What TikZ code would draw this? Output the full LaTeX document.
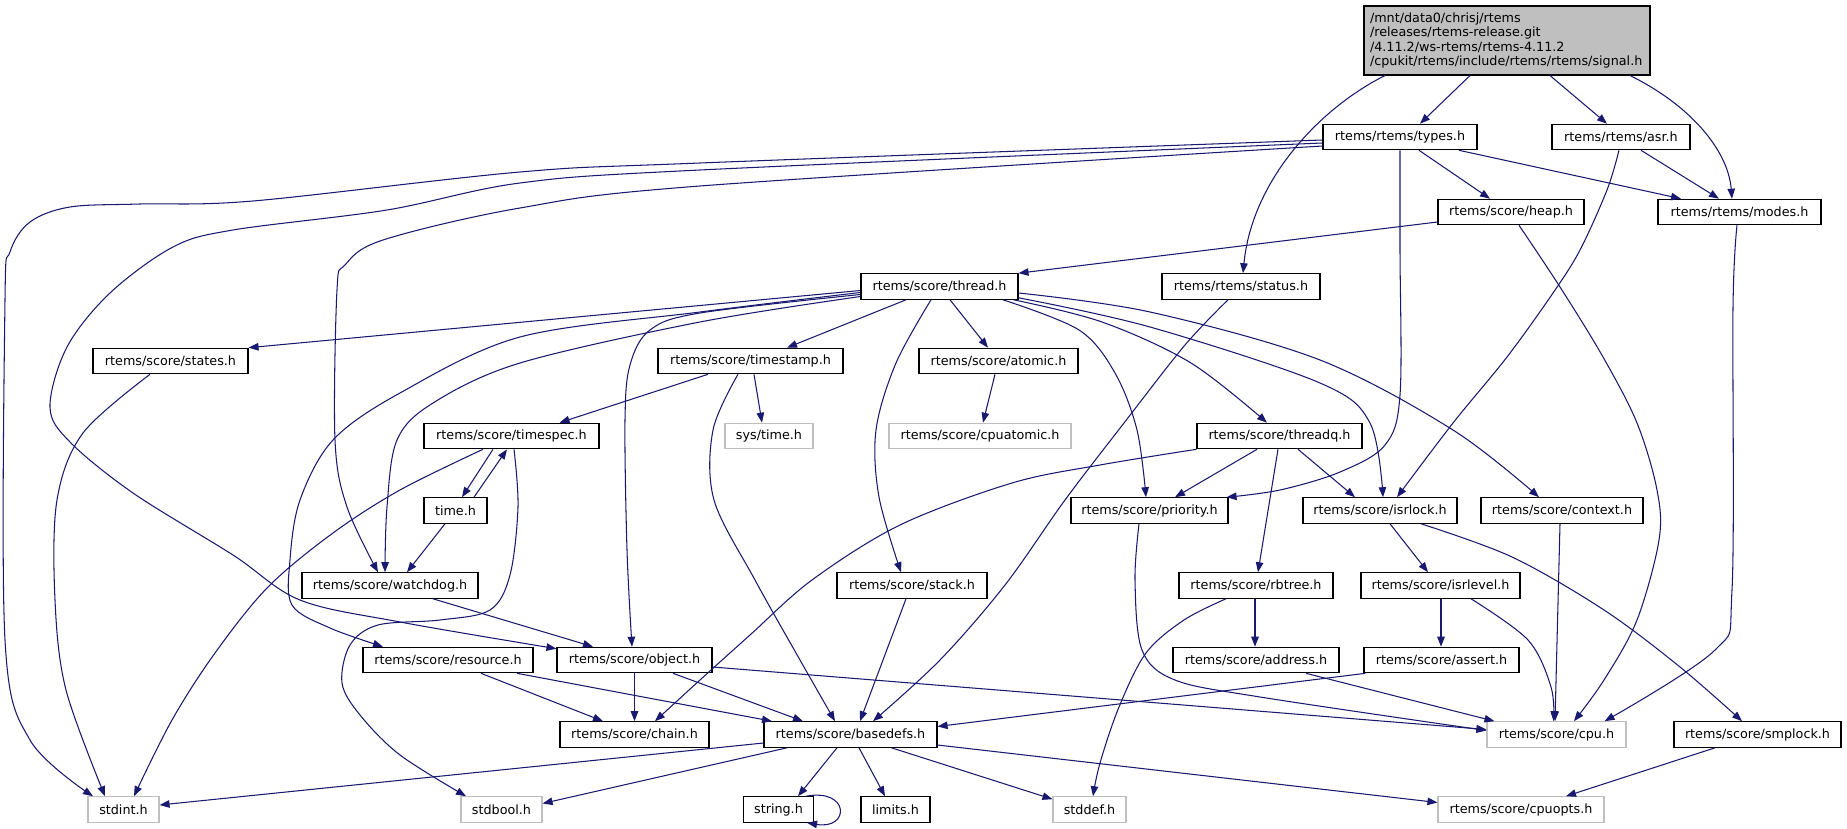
\documentclass[tikz,border=0pt]{standalone}
\usepackage{fontspec}
\setmainfont{DejaVu Sans}
\usetikzlibrary{arrows.meta}
\definecolor{eb}{HTML}{191970}
\definecolor{gsev}{HTML}{BFBFBF}
\newcommand{\dgfont}{\fontsize{12.75}{14.5}\selectfont}
\tikzset{
  nd/.style={rectangle, draw=black, line width=1.1pt, fill=white, minimum height=25.5pt, inner sep=0pt, font=\dgfont},
  gnd/.style={nd, draw=gsev},
  rootnd/.style={rectangle, draw=black, line width=1.1pt, fill=gsev, minimum height=69pt, text width=274pt, align=left, inner xsep=6pt, inner ysep=0pt, font=\dgfont},
  ed/.style={draw=eb, line width=1.05pt, -{Triangle[length=10pt,width=7.5pt]}},
  sm/.style={smooth, tension=0.55}
}
\begin{document}
\begin{tikzpicture}[x=1pt,y=-1pt]
\fill[white] (0,0) rectangle (1847,829);
\useasboundingbox (0,0) rectangle (1847,829);
% nodes
\node[rootnd] (root) at (1507,40.5) {/mnt/data0/chrisj/rtems\\/releases/rtems-release.git\\/4.11.2/ws-rtems/rtems-4.11.2\\/cpukit/rtems/include/rtems/rtems/signal.h};
\node[nd, minimum width=154pt] (types) at (1400,137) {rtems/rtems/types.h};
\node[nd, minimum width=138pt] (asr) at (1621,137) {rtems/rtems/asr.h};
\node[nd, minimum width=146pt] (heap) at (1511,212) {rtems/score/heap.h};
\node[nd, minimum width=163pt] (modes) at (1739.5,212) {rtems/rtems/modes.h};
\node[nd, minimum width=157pt] (thread) at (939.5,286.5) {rtems/score/thread.h};
\node[nd, minimum width=158pt] (status) at (1241,286.5) {rtems/rtems/status.h};
\node[nd, minimum width=155pt] (states) at (170.5,361) {rtems/score/states.h};
\node[nd, minimum width=185pt] (timestamp) at (750.5,361) {rtems/score/timestamp.h};
\node[nd, minimum width=159pt] (atomic) at (998.5,361) {rtems/score/atomic.h};
\node[nd, minimum width=175pt] (timespec) at (511.5,436) {rtems/score/timespec.h};
\node[gnd, minimum width=88pt] (systime) at (769,436) {sys/time.h};
\node[gnd, minimum width=182pt] (cpuatomic) at (980,436) {rtems/score/cpuatomic.h};
\node[nd, minimum width=165pt] (threadq) at (1279.5,436) {rtems/score/threadq.h};
\node[nd, minimum width=63pt] (time) at (455.5,510.5) {time.h};
\node[nd, minimum width=157pt] (priority) at (1149.5,510.5) {rtems/score/priority.h};
\node[nd, minimum width=154pt] (isrlock) at (1380,510.5) {rtems/score/isrlock.h};
\node[nd, minimum width=162pt] (context) at (1562,510.5) {rtems/score/context.h};
\node[nd, minimum width=176pt] (watchdog) at (390,585.5) {rtems/score/watchdog.h};
\node[nd, minimum width=150pt] (stack) at (912,585.5) {rtems/score/stack.h};
\node[nd, minimum width=154pt] (rbtree) at (1256,585.5) {rtems/score/rbtree.h};
\node[nd, minimum width=159pt] (isrlevel) at (1440.5,585.5) {rtems/score/isrlevel.h};
\node[nd, minimum width=170pt] (resource) at (448,660) {rtems/score/resource.h};
\node[nd, minimum width=155pt] (object) at (634.5,660) {rtems/score/object.h};
\node[nd, minimum width=166pt] (address) at (1256,660) {rtems/score/address.h};
\node[nd, minimum width=155pt] (assert) at (1441.5,660) {rtems/score/assert.h};
\node[nd, minimum width=149pt] (chain) at (634.5,734.5) {rtems/score/chain.h};
\node[nd, minimum width=173pt] (basedefs) at (850.5,734.5) {rtems/score/basedefs.h};
\node[gnd, minimum width=139pt] (cpu) at (1556.5,734.5) {rtems/score/cpu.h};
\node[nd, minimum width=167pt] (smplock) at (1757.5,734.5) {rtems/score/smplock.h};
\node[gnd, minimum width=71pt] (stdint) at (123.5,809.5) {stdint.h};
\node[gnd, minimum width=81pt] (stdbool) at (501.5,809.5) {stdbool.h};
\node[nd, minimum width=70pt] (string) at (778.5,809.5) {string.h};
\node[nd, minimum width=69pt] (limits) at (895.5,809.5) {limits.h};
\node[gnd, minimum width=73pt] (stddef) at (1089.5,809.5) {stddef.h};
\node[gnd, minimum width=166pt] (cpuopts) at (1521,809.5) {rtems/score/cpuopts.h};
% edges from root
\draw[ed] ([xshift=-37pt]root.south) -- ([xshift=20pt]types.north);
\draw[ed] ([xshift=43pt]root.south) -- ([xshift=-14pt]asr.north);
\draw[ed] ([xshift=123pt]root.south) .. controls (1690,105) and (1728,150) .. ([xshift=-7.5pt]modes.north);
\draw[ed] ([xshift=-122pt]root.south) .. controls (1320,108) and (1252,180) .. ([xshift=2pt]status.north);
% types
\draw[ed] plot[sm] coordinates {([yshift=-3pt]types.west) (700,163) (520,172) (253,201) (140,204) (70,207) (30,222) (10,252) (5,300) (5,640) (30,740) ([xshift=-30.5pt]stdint.north)};
\draw[ed] plot[sm] coordinates {([yshift=-6pt]types.west) (700,170) (520,183) (387,210) (233,230) (173,247) (110,293) (67,347) (50,407) (70,442) (133,493) (233,555) (300,600) (400,622) ([yshift=-2pt]object.north west)};
\draw[ed] plot[sm] coordinates {([yshift=-9pt]types.west) (700,186) (520,208) (383,240) (345,265) (337,290) (335,440) (347,507) ([xshift=-12pt]watchdog.north)};
\draw[ed] ([xshift=19pt]types.south) -- ([xshift=-21pt]heap.north);
\draw[ed] ([xshift=59pt]types.south) -- ([xshift=-58.5pt]modes.north);
\draw[ed] plot[sm] coordinates {(types.south) (1400,250) (1400,395) (1385,445) (1340,472) (1280,490) ([xshift=-2pt]priority.north east)};
% asr
\draw[ed] ([xshift=20pt]asr.south) -- ([xshift=-20.5pt]modes.north);
\draw[ed] plot[sm] coordinates {([xshift=-2pt]asr.south) (1607,190) (1580,250) (1553,293) (1507,357) (1453,423) ([xshift=17pt]isrlock.north)};
% heap
\draw[ed] ([yshift=-10pt]heap.west) -- (thread.north east);
\draw[ed] plot[sm] coordinates {([xshift=8pt]heap.south) (1560,287) (1603,357) (1637,423) (1657,490) (1659,540) (1637,620) (1604,680) ([xshift=17.5pt]cpu.north)};
% modes
\draw[ed] plot[sm] coordinates {([xshift=-2.5pt]modes.south) (1733,307) (1732,590) (1715,650) ([xshift=-22pt]cpu.north east)};
% status
\draw[ed] plot[sm] coordinates {([xshift=-13pt]status.south) (1185,345) (1124,423) (1065,500) (1005,585) (940,660) ([xshift=22.5pt]basedefs.north)};
% thread
\draw[ed] ([yshift=-4pt]thread.west) -- (states.north east);
\draw[ed] plot[sm] coordinates {([yshift=-6pt]thread.west) (700,312) (520,337) (400,393) (333,440) (300,500) (290,560) (292,605) (330,628) ([xshift=-65pt]resource.north)};
\draw[ed] plot[sm] coordinates {([yshift=-10pt]thread.west) (700,322) (520,363) (433,403) (397,440) (387,507) ([xshift=-5pt]watchdog.north)};
\draw[ed] plot[sm] coordinates {([yshift=-8pt]thread.west) (700,313) (650,330) (630,365) (625,420) (627,550) ([xshift=-2.5pt]object.north)};
\draw[ed] ([xshift=-33.5pt]thread.south) -- ([xshift=36.5pt]timestamp.north);
\draw[ed] ([xshift=10.5pt]thread.south) -- ([xshift=-10.5pt]atomic.north);
\draw[ed] plot[sm] coordinates {([xshift=-8.5pt]thread.south) (896,363) (876,430) (879,497) ([xshift=-11pt]stack.north)};
\draw[ed] plot[sm] coordinates {([xshift=63.5pt]thread.south) (1079,330) (1115,373) (1137,430) ([xshift=-3.5pt]priority.north)};
\draw[ed] plot[sm] coordinates {([xshift=-5pt]thread.south east) (1102,322) (1191,363) ([xshift=-12.5pt]threadq.north)};
\draw[ed] plot[sm] coordinates {([yshift=2pt]thread.south east) (1150,327) (1320,383) (1370,423) ([xshift=3pt]isrlock.north)};
\draw[ed] plot[sm] coordinates {([yshift=-6.5pt]thread.east) (1150,312) (1320,360) (1453,430) ([xshift=-23pt]context.north)};
% timestamp
\draw[ed] ([xshift=-42.5pt]timestamp.south) -- ([xshift=-40pt]timespec.north east);
\draw[ed] ([xshift=3.5pt]timestamp.south) -- ([xshift=-7pt]systime.north);
\draw[ed] plot[sm] coordinates {([xshift=-12.5pt]timestamp.south) (713,430) (714,500) (755,580) (800,660) ([xshift=-15.5pt]basedefs.north)};
% atomic
\draw[ed] ([xshift=-3.5pt]atomic.south) -- ([xshift=3pt]cpuatomic.north);
% timespec / time
\draw[ed] ([xshift=-18.5pt]timespec.south) -- ([xshift=6.5pt]time.north);
\draw[ed] ([xshift=18.5pt]time.north) -- ([xshift=-4.5pt]timespec.south);
\draw[ed] plot[sm] coordinates {([xshift=-28.5pt]timespec.south) (400,490) (333,533) (268,587) (215,653) (172,720) ([xshift=10.5pt]stdint.north)};
\draw[ed] plot[sm] coordinates {([xshift=2.5pt]timespec.south) (518,507) (510,575) (490,610) (440,620) (378,625) (350,645) (342,683) (360,715) (400,755) ([xshift=-35.5pt]stdbool.north)};
\draw[ed] ([xshift=-10.5pt]time.south) -- ([xshift=17pt]watchdog.north);
% watchdog
\draw[ed] ([xshift=43pt]watchdog.south) -- ([xshift=-41.5pt]object.north);
% states
\draw[ed] plot[sm] coordinates {([xshift=-20.5pt]states.south) (83,433) (57,500) (55,600) (66,690) ([xshift=-18.5pt]stdint.north)};
% resource
\draw[ed] ([xshift=33pt]resource.south) -- ([xshift=-31.5pt]chain.north);
\draw[ed] ([xshift=69pt]resource.south) -- ([xshift=-78.5pt]basedefs.north);
% object
\draw[ed] (object.south) -- (chain.north);
\draw[ed] ([xshift=38.5pt]object.south) -- ([xshift=-47.5pt]basedefs.north);
\draw[ed] ([yshift=-7pt]object.east) -- ([yshift=5pt]cpu.west);
% threadq
\draw[ed] ([xshift=-22.5pt]threadq.south) -- ([xshift=25.5pt]priority.north);
\draw[ed] ([xshift=18.5pt]threadq.south) -- ([xshift=-25pt]isrlock.north);
\draw[ed] ([xshift=-1.5pt]threadq.south) -- ([xshift=2pt]rbtree.north);
\draw[ed] plot[sm] coordinates {(threadq.south west) (1100,465) (1012,483) (900,525) (812,580) (750,635) (700,680) ([xshift=20.5pt]chain.north)};
% priority
\draw[ed] plot[sm] coordinates {([xshift=-10.5pt]priority.south) (1135,580) (1142,650) (1175,680) (1260,697) ([yshift=4pt]cpu.west)};
% isrlock
\draw[ed] ([xshift=10pt]isrlock.south) -- ([xshift=-12.5pt]isrlevel.north);
\draw[ed] plot[sm] coordinates {([xshift=41pt]isrlock.south) (1512,557) (1604,610) (1680,667) ([xshift=-15.5pt]smplock.north)};
% context
\draw[ed] ([xshift=-2pt]context.south) -- ([xshift=-1.5pt]cpu.north);
% stack
\draw[ed] ([xshift=-6pt]stack.south) -- ([xshift=9.5pt]basedefs.north);
% rbtree
\draw[ed] ([xshift=-1pt]rbtree.south) -- ([xshift=-1pt]address.north);
\draw[ed] plot[sm] coordinates {([xshift=-30pt]rbtree.south) (1184,620) (1146,653) (1119,707) (1100,763) ([xshift=3.5pt]stddef.north)};
% isrlevel
\draw[ed] ([xshift=0.5pt]isrlevel.south) -- ([xshift=-0.5pt]assert.north);
\draw[ed] plot[sm] coordinates {([xshift=30.5pt]isrlevel.south) (1528,640) (1551,687) ([xshift=-3pt]cpu.north)};
% address, assert, smplock
\draw[ed] ([xshift=50pt]address.south) -- ([xshift=8pt]cpu.north west);
\draw[ed] ([xshift=2pt]assert.south west) -- ([yshift=8pt]basedefs.east);
\draw[ed] ([xshift=-42.5pt]smplock.south) -- ([xshift=45pt]cpuopts.north);
% basedefs
\draw[ed] ([yshift=-8.5pt]basedefs.west) -- ([yshift=4.5pt]stdint.east);
\draw[ed] ([xshift=-63.5pt]basedefs.south) -- ([yshift=6pt]stdbool.east);
\draw[ed] ([xshift=-13.5pt]basedefs.south) -- ([xshift=19.5pt]string.north);
\draw[ed] ([xshift=8.5pt]basedefs.south) -- ([xshift=-10.5pt]limits.north);
\draw[ed] ([xshift=41pt]basedefs.south) -- ([yshift=-3pt]stddef.north west);
\draw[ed] ([yshift=-10.5pt]basedefs.east) -- ([yshift=7pt]cpuopts.west);
% string self loop
\draw[ed] ([xshift=-8pt]string.north east) .. controls (850,788) and (850,830) .. ([xshift=-7pt]string.south east);
\end{tikzpicture}
\end{document}
